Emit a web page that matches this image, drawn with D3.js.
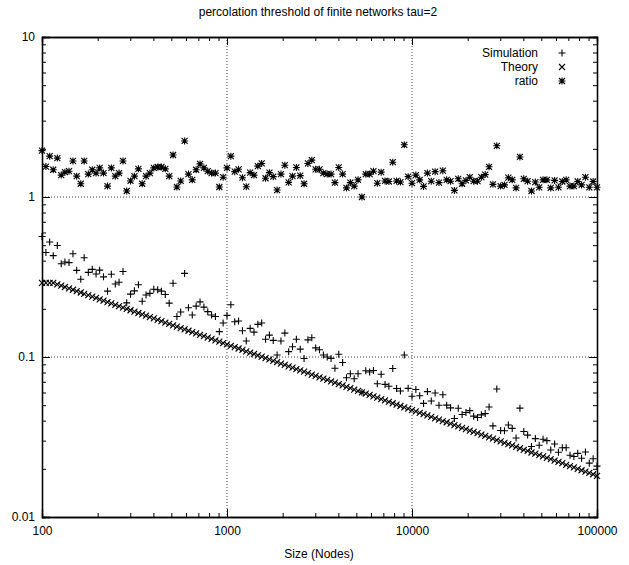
<!DOCTYPE html>
<html>
<head>
<meta charset="utf-8">
<script src="https://cdn.jsdelivr.net/npm/d3@7"></script>
<style>
  body { margin: 0; background: #fff; }
  svg text { font-family: "Liberation Sans", Arial, sans-serif; font-size: 12px; fill: #000; }
</style>
</head>
<body>
<svg id="chart" width="629" height="565"></svg>
<script>
// network sizes (x), 48 per decade
var sizes = [
  100,105,110,115,121,127,133,140,147,154,162,169,178,187,196,205,215,226,237,249,261,274,287,301,
  316,332,348,365,383,402,422,442,464,487,511,536,562,590,619,649,681,715,750,787,825,866,909,953,
  1000,1049,1101,1155,1212,1271,1334,1399,1468,1540,1616,1695,1778,1866,1957,2054,2154,2260,2371,2488,
  2610,2738,2873,3014,3162,3318,3481,3652,3831,4019,4217,4424,4642,4870,5109,5360,5623,5900,6190,6494,
  6813,7148,7499,7867,8254,8660,9085,9532,
  10000,10491,11007,11548,12115,12710,13335,13990,14678,15399,16155,16949,17783,18657,19573,20535,
  21544,22603,23714,24879,26102,27384,28730,30142,31623,33177,34807,36517,38312,40194,42170,44242,
  46416,48697,51090,53600,56234,58997,61897,64938,68129,71477,74989,78674,82540,86596,90851,95316,100000
];

var simulation = [
  0.566,0.450,0.523,0.430,0.498,0.383,0.392,0.389,0.442,0.348,0.306,0.417,0.338,0.353,0.330,0.349,
  0.317,0.258,0.329,0.286,0.293,0.342,0.218,0.247,0.259,0.283,0.223,0.244,0.250,0.265,0.263,0.258,
  0.246,0.217,0.289,0.179,0.191,0.333,0.203,0.183,0.208,0.221,0.205,0.192,0.183,0.179,0.144,0.163,
  0.182,0.212,0.166,0.168,0.146,0.126,0.151,0.143,0.160,0.163,0.129,0.137,0.127,0.103,0.126,0.141,
  0.108,0.116,0.129,0.112,0.0979,0.128,0.132,0.114,0.111,0.103,0.0999,0.0980,0.0850,0.104,0.0924,0.0742,
  0.0786,0.0732,0.0786,0.0602,0.0820,0.0805,0.0824,0.0680,0.0781,0.0674,0.0656,0.0848,0.0635,0.0613,0.103,0.0637,
  0.0569,0.0626,0.0573,0.0513,0.0608,0.0531,0.0596,0.0499,0.0581,0.0500,0.0481,0.0413,0.0478,0.0437,0.0450,0.0462,
  0.0427,0.0419,0.0435,0.0443,0.0487,0.0371,0.0631,0.0347,0.0346,0.0376,0.0358,0.0312,0.0479,0.0342,0.0325,0.0276,
  0.0309,0.0281,0.0306,0.0300,0.0262,0.0286,0.0254,0.0271,0.0271,0.0243,0.0239,0.0250,0.0233,0.0255,0.0217,0.0231,
  0.0208
];

var theory = [
  0.2904,0.2904,0.2904,0.2904,0.2848,0.2792,0.2738,0.2684,0.2632,0.2581,0.2530,0.2481,0.2433,0.2385,0.2339,0.2293,
  0.2249,0.2205,0.2162,0.2120,0.2079,0.2038,0.1998,0.1960,0.1921,0.1884,0.1847,0.1811,0.1776,0.1741,0.1708,0.1674,
  0.1642,0.1610,0.1578,0.1548,0.1517,0.1488,0.1459,0.1431,0.1403,0.1375,0.1349,0.1322,0.1296,0.1271,0.1246,0.1222,
  0.1198,0.1175,0.1152,0.1130,0.1108,0.1086,0.1065,0.1044,0.1024,0.1004,0.0984,0.0965,0.0947,0.0928,0.0910,0.0892,
  0.0875,0.0858,0.0841,0.0825,0.0809,0.0793,0.0777,0.0763,0.0747,0.0733,0.0719,0.0705,0.0691,0.0677,0.0665,0.0651,
  0.0639,0.0626,0.0614,0.0602,0.0590,0.0579,0.0568,0.0557,0.0546,0.0535,0.0525,0.0514,0.0504,0.0494,0.0485,0.0475,
  0.0466,0.0457,0.0448,0.0440,0.0431,0.0423,0.0414,0.0406,0.0398,0.0391,0.0383,0.0375,0.0368,0.0361,0.0354,0.0347,
  0.0340,0.0334,0.0327,0.0321,0.0315,0.0309,0.0302,0.0297,0.0291,0.0285,0.0280,0.0274,0.0269,0.0263,0.0259,0.0253,
  0.0249,0.0244,0.0239,0.0234,0.0230,0.0225,0.0221,0.0217,0.0212,0.0208,0.0204,0.0200,0.0196,0.0192,0.0189,0.0185,
  0.0181
];

var ratio = [
  1.95,1.55,1.80,1.48,1.75,1.37,1.43,1.45,1.68,1.35,1.21,1.68,1.39,1.48,1.41,1.52,
  1.41,1.17,1.52,1.35,1.41,1.68,1.09,1.26,1.35,1.50,1.21,1.35,1.41,1.52,1.54,1.54,
  1.50,1.35,1.83,1.155,1.26,2.24,1.39,1.28,1.48,1.61,1.52,1.45,1.41,1.41,1.155,1.33,
  1.52,1.80,1.44,1.49,1.32,1.16,1.42,1.37,1.56,1.62,1.31,1.42,1.34,1.105,1.39,1.58,
  1.235,1.35,1.53,1.36,1.21,1.62,1.70,1.49,1.49,1.41,1.39,1.39,1.23,1.53,1.39,1.14,
  1.23,1.17,1.28,1.00,1.39,1.39,1.45,1.22,1.43,1.26,1.25,1.65,1.26,1.24,2.12,1.34,
  1.22,1.37,1.28,1.165,1.41,1.255,1.44,1.23,1.46,1.28,1.255,1.10,1.30,1.21,1.27,1.33,
  1.255,1.255,1.33,1.38,1.545,1.20,2.09,1.17,1.19,1.32,1.28,1.14,1.78,1.30,1.255,1.09,
  1.24,1.15,1.28,1.28,1.14,1.27,1.15,1.25,1.28,1.17,1.17,1.25,1.19,1.33,1.15,1.25,
  1.15
];

var xMajor = [100, 1000, 10000, 100000];
var yMajor = [0.01, 0.1, 1, 10];
var seriesNames = ["Simulation", "Theory", "ratio"];

var svg = d3.select("#chart");
var margin = { left: 42, right: 32, top: 37, bottom: 48 };
var W = 629, H = 565;

var x = d3.scaleLog().domain([100, 100000]).range([margin.left, W - margin.right]);
var y = d3.scaleLog().domain([0.01, 10]).range([H - margin.bottom, margin.top]);

function minors(majors) {
  var out = [];
  for (var i = 0; i < majors.length - 1; i++) {
    for (var k = 2; k <= 9; k++) out.push(majors[i] * k);
  }
  return out;
}

// grid (dotted)
var grid = svg.append("g");
grid.selectAll(".gx").data(xMajor.slice(1, -1)).enter().append("line")
  .attr("x1", d => x(d)).attr("x2", d => x(d))
  .attr("y1", y(10)).attr("y2", y(0.01))
  .attr("stroke", "#444").attr("stroke-width", 1).attr("stroke-dasharray", "1,2");
grid.selectAll(".gy").data(yMajor.slice(1, -1)).enter().append("line")
  .attr("y1", d => y(d)).attr("y2", d => y(d))
  .attr("x1", x(100)).attr("x2", x(100000))
  .attr("stroke", "#444").attr("stroke-width", 1).attr("stroke-dasharray", "1,2");

// axes, ticks inward and mirrored like gnuplot
svg.append("g").attr("transform", "translate(0," + y(0.01) + ")")
  .call(d3.axisBottom(x).tickValues(xMajor).tickSize(-8).tickPadding(9).tickFormat(d3.format("d")));
svg.append("g").attr("transform", "translate(0," + y(0.01) + ")")
  .call(d3.axisBottom(x).tickValues(minors(xMajor)).tickSize(-4).tickFormat(""));
svg.append("g").attr("transform", "translate(0," + y(10) + ")")
  .call(d3.axisTop(x).tickValues(xMajor).tickSize(-8).tickFormat(""));
svg.append("g").attr("transform", "translate(0," + y(10) + ")")
  .call(d3.axisTop(x).tickValues(minors(xMajor)).tickSize(-4).tickFormat(""));

svg.append("g").attr("transform", "translate(" + x(100) + ",0)")
  .call(d3.axisLeft(y).tickValues(yMajor).tickSize(-8).tickPadding(7).tickFormat(d => String(d)));
svg.append("g").attr("transform", "translate(" + x(100) + ",0)")
  .call(d3.axisLeft(y).tickValues(minors(yMajor)).tickSize(-4).tickFormat(""));
svg.append("g").attr("transform", "translate(" + x(100000) + ",0)")
  .call(d3.axisRight(y).tickValues(yMajor).tickSize(-8).tickFormat(""));
svg.append("g").attr("transform", "translate(" + x(100000) + ",0)")
  .call(d3.axisRight(y).tickValues(minors(yMajor)).tickSize(-4).tickFormat(""));

svg.selectAll(".domain").attr("stroke", "#000").attr("stroke-width", 1.3);
svg.selectAll(".tick line").attr("stroke", "#000");
svg.selectAll(".tick text").style("font-size", "12px").style("font-family", "'Liberation Sans', Arial, sans-serif");

// point symbols
var symbols = {
  Simulation: "M-3.5,0H3.5M0,-3.5V3.5",
  Theory: "M-3,-3L3,3M-3,3L3,-3",
  ratio: "M-3.5,0H3.5M0,-3.5V3.5M-3,-3L3,3M-3,3L3,-3"
};
var seriesData = { Simulation: simulation, Theory: theory, ratio: ratio };

seriesNames.forEach(function (name) {
  svg.append("g").selectAll("path").data(seriesData[name]).enter().append("path")
    .attr("transform", (d, i) => "translate(" + x(sizes[i]) + "," + y(d) + ")")
    .attr("d", symbols[name])
    .attr("fill", "none")
    .attr("stroke", "#000")
    .attr("stroke-width", 1.1);
});

// legend
var legend = svg.append("g");
seriesNames.forEach(function (name, i) {
  var ly = 53 + i * 14;
  legend.append("text").attr("x", 538).attr("y", ly + 4).attr("text-anchor", "end").text(name);
  legend.append("path").attr("transform", "translate(562," + ly + ")")
    .attr("d", symbols[name]).attr("fill", "none").attr("stroke", "#000").attr("stroke-width", 1.1);
});

// title and axis label
svg.append("text").attr("x", 318).attr("y", 16).attr("text-anchor", "middle")
  .text("percolation threshold of finite networks tau=2");
svg.append("text").attr("x", 319).attr("y", 558).attr("text-anchor", "middle")
  .text("Size (Nodes)");
</script>
</body>
</html>
